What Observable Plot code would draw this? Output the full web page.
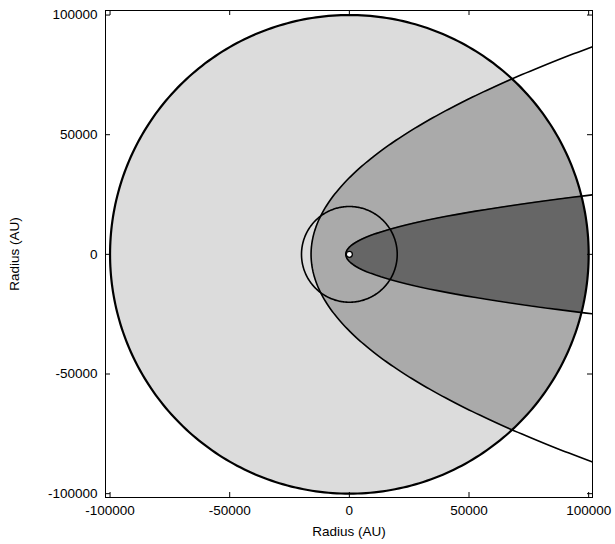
<!DOCTYPE html>
<html>
<head>
<meta charset="utf-8">
<script src="https://cdn.jsdelivr.net/npm/d3@7"></script>
<script src="https://cdn.jsdelivr.net/npm/@observablehq/plot@0.6"></script>
<style>
  body { margin: 0; background: #fff; }
  #chart svg { display: block; font-family: "Liberation Sans", Arial, sans-serif; }
</style>
</head>
<body>
<div id="chart"></div>
<script>
// ---- chart values (AU) ----
const xTicks = [-100000, -50000, 0, 50000, 100000];
const yTicks = [-100000, -50000, 0, 50000, 100000];
const xDomain = [-101900, 101600];
const yDomain = [-101600, 101900];
const outerCircleRadius = [100000];       // large circle
const innerCircleRadius = [20000];        // small circle at origin
const parabolaFocalParam = [16000, 1500]; // vertex distance from focus: wide, narrow
const regionFills = ["#dcdcdc", "#aaaaaa", "#666666"];
const axisLabel = ["Radius (AU)"];

// ---- geometry built from the values above ----
const N = 360;
function circlePts(R) {
  return d3.range(N + 1).map(i => {
    const a = (i / N) * 2 * Math.PI;
    return {x: R * Math.cos(a), y: R * Math.sin(a)};
  });
}
function parabolaPts(p, yMax) {
  return d3.range(N + 1).map(i => {
    const y = -yMax + (2 * yMax * i) / N;
    return {x: (y * y) / (4 * p) - p, y};
  });
}
// region inside circle R and inside parabola p (x from parabola to circle)
function lensPts(p, R) {
  const xi = -2 * p + R;
  const yi = Math.sqrt(4 * p * (xi + p));
  return d3.range(N + 1).map(i => {
    const y = -yi + (2 * yi * i) / N;
    return {y, x1: (y * y) / (4 * p) - p, x2: Math.sqrt(Math.max(0, R * R - y * y))};
  });
}
function discPts(R) {
  return d3.range(N + 1).map(i => {
    const y = -R + (2 * R * i) / N;
    const h = Math.sqrt(Math.max(0, R * R - y * y));
    return {y, x1: -h, x2: h};
  });
}

const R = outerCircleRadius[0];
const r = innerCircleRadius[0];
const yEdge = 130000;

const width = 615, height = 544;
const mT = 10, mB = 47, mL = 105, mR = 23;
const plotH = height - mT - mB;
const plotW = width - mL - mR;
const tick = 5;

const chart = Plot.plot({
  width, height,
  marginTop: mT, marginBottom: mB, marginLeft: mL, marginRight: mR,
  style: {fontSize: "13.5px", fontFamily: "'Liberation Sans', Arial, sans-serif", color: "#000", background: "#fff"},
  x: {domain: xDomain, ticks: xTicks},
  y: {domain: yDomain, ticks: yTicks},
  marks: [
    Plot.areaX(discPts(R), {y: "y", x1: "x1", x2: "x2", fill: regionFills[0]}),
    Plot.areaX(lensPts(parabolaFocalParam[0], R), {y: "y", x1: "x1", x2: "x2", fill: regionFills[1]}),
    Plot.areaX(lensPts(parabolaFocalParam[1], R), {y: "y", x1: "x1", x2: "x2", fill: regionFills[2]}),
    Plot.line(parabolaPts(parabolaFocalParam[0], yEdge), {x: "x", y: "y", stroke: "#000", strokeWidth: 1.6, clip: true}),
    Plot.line(parabolaPts(parabolaFocalParam[1], yEdge), {x: "x", y: "y", stroke: "#000", strokeWidth: 1.6, clip: true}),
    Plot.line(circlePts(r), {x: "x", y: "y", stroke: "#000", strokeWidth: 1.6}),
    Plot.line(circlePts(R), {x: "x", y: "y", stroke: "#000", strokeWidth: 2.2}),
    Plot.dot([{x: 0, y: 0}], {x: "x", y: "y", r: 3, fill: "#fff", stroke: "#000", strokeWidth: 1.3}),
    // inward mirror ticks on all four sides
    Plot.tickX(xTicks, {x: d => d, insetTop: plotH - tick, stroke: "#000"}),
    Plot.tickX(xTicks, {x: d => d, insetBottom: plotH - tick, stroke: "#000"}),
    Plot.tickY(yTicks, {y: d => d, insetRight: plotW - tick, stroke: "#000"}),
    Plot.tickY(yTicks, {y: d => d, insetLeft: plotW - tick, stroke: "#000"}),
    Plot.axisX({anchor: "bottom", ticks: xTicks, tickSize: 0, tickPadding: 8, tickFormat: d => String(d),
      label: axisLabel[0], labelAnchor: "center", labelOffset: 38, labelArrow: "none"}),
    Plot.axisY({anchor: "left", ticks: yTicks, tickSize: 0, tickPadding: 8, tickFormat: d => String(d),
      label: axisLabel[0], labelAnchor: "center", labelOffset: 96, labelArrow: "none"}),
    Plot.frame({stroke: "#000", strokeWidth: 1})
  ]
});
document.getElementById("chart").appendChild(chart);
</script>
</body>
</html>
